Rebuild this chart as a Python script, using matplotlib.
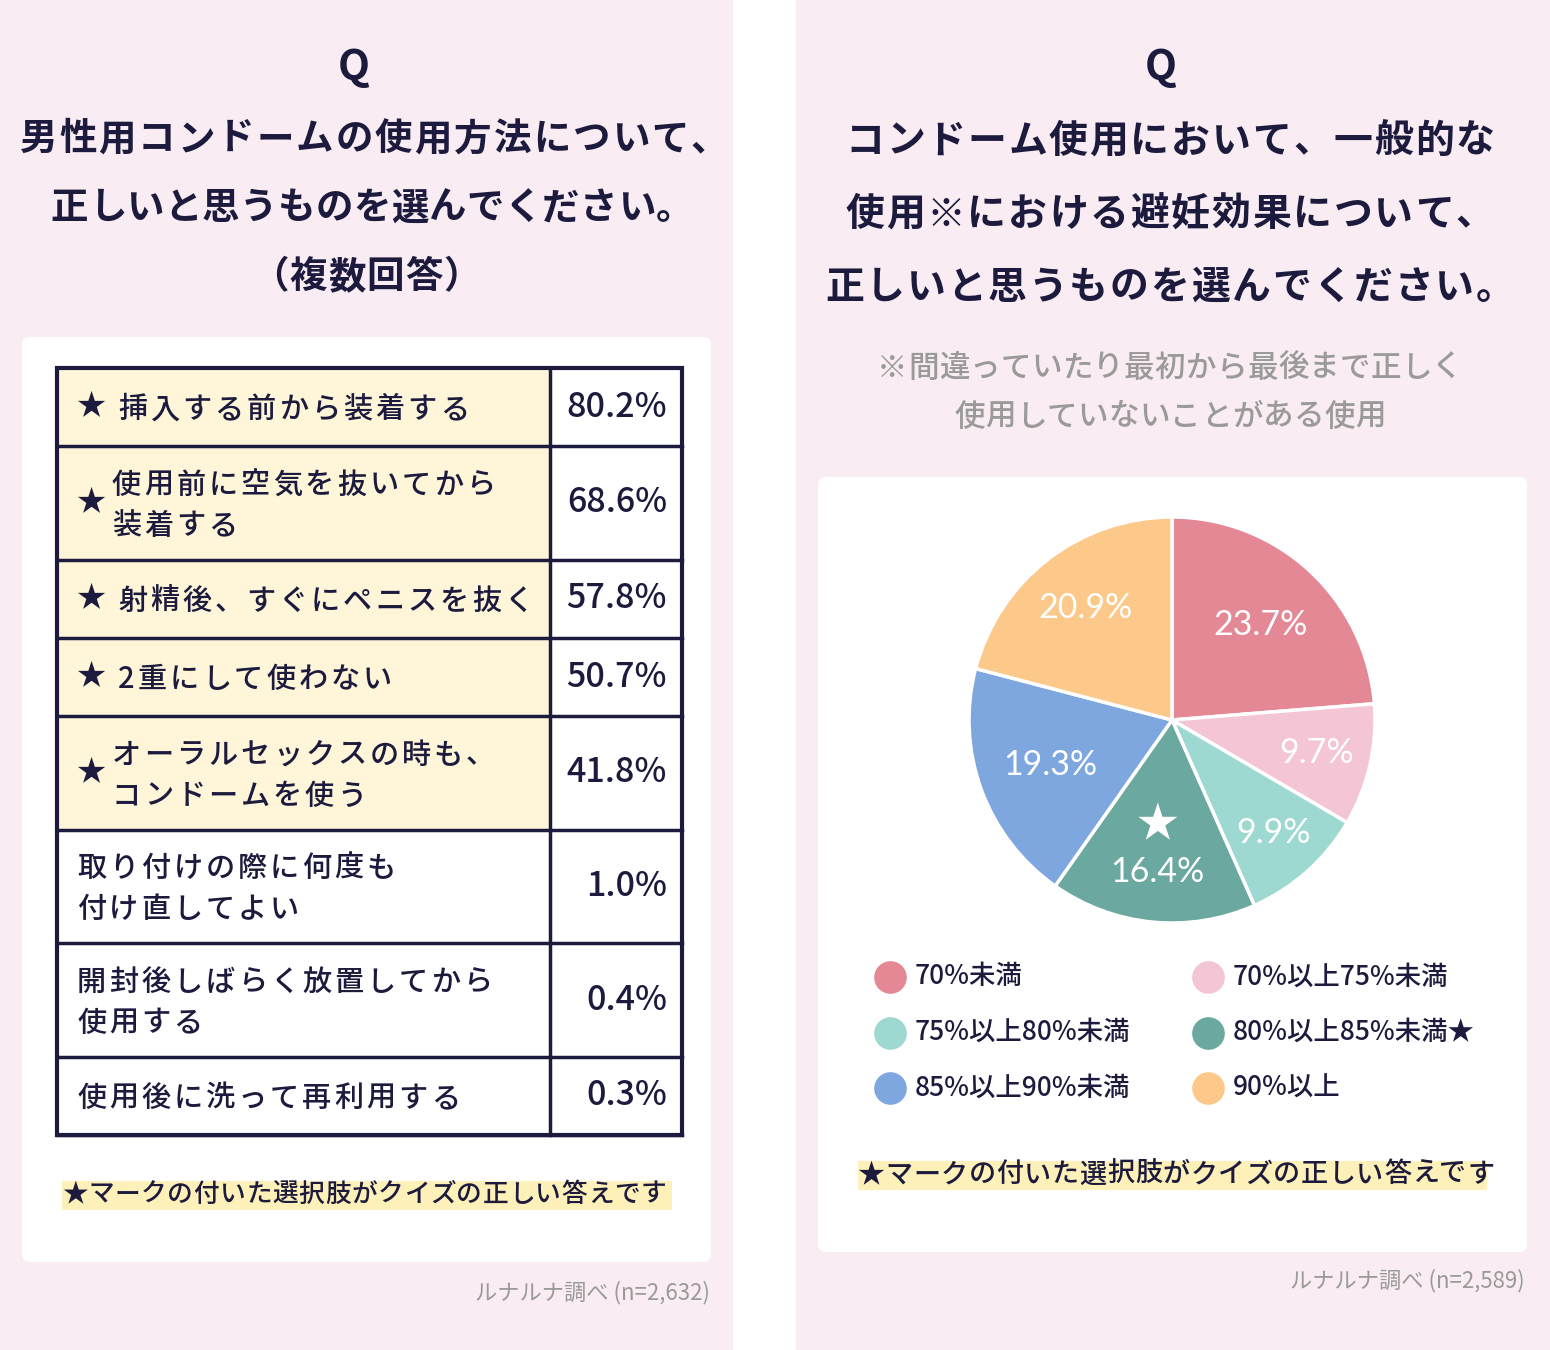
import matplotlib
matplotlib.use("Agg")
import matplotlib.pyplot as plt
from matplotlib.patches import Rectangle, FancyBboxPatch
from matplotlib.font_manager import findfont, FontProperties
from matplotlib.ft2font import FT2Font
import numpy as np

plt.rcParams['font.family'] = ['Noto Sans CJK JP', 'DejaVu Sans']

# ---- data ----
left_title = ["男性用コンドームの使用方法について、", "正しいと思うものを選んでください。", "（複数回答）"]
options = [
    "挿入する前から装着する",
    "使用前に空気を抜いてから\n装着する",
    "射精後、すぐにペニスを抜く",
    "2重にして使わない",
    "オーラルセックスの時も、\nコンドームを使う",
    "取り付けの際に何度も\n付け直してよい",
    "開封後しばらく放置してから\n使用する",
    "使用後に洗って再利用する",
]
option_pct = [80.2, 68.6, 57.8, 50.7, 41.8, 1.0, 0.4, 0.3]
option_correct = [True, True, True, True, True, False, False, False]
left_source = "ルナルナ調べ (n=2,632)"

right_title = ["コンドーム使用において、一般的な", "使用※における避妊効果について、", "正しいと思うものを選んでください。"]
right_note = ["※間違っていたり最初から最後まで正しく", "使用していないことがある使用"]
pie_labels = ["70%未満", "70%以上75%未満", "75%以上80%未満", "80%以上85%未満", "85%以上90%未満", "90%以上"]
pie_values = [23.7, 9.7, 9.9, 16.4, 19.3, 20.9]
pie_correct = [False, False, False, True, False, False]
right_source = "ルナルナ調べ (n=2,589)"
footnote = "★マークの付いた選択肢がクイズの正しい答えです"

# ---- style ----
NAVY = "#1c1b3d"
PINK_BG = "#f9edf3"
CREAM = "#fff6da"
HILITE = "#fdf0b8"
GRAY = "#9a9a9a"
pie_colors = ["#e48896", "#f3c5d5", "#9dd9d0", "#6aa8a0", "#7fa7df", "#fdc98a"]
label_dist = [0.64, 0.73, 0.75, 0.75, 0.64, 0.70]

W, H = 1550, 1350
DPI = 100
fig = plt.figure(figsize=(W / DPI, H / DPI), dpi=DPI)
bg = fig.add_axes([0, 0, 1, 1])
bg.set_xlim(0, W)
bg.set_ylim(H, 0)
bg.axis('off')

_fonts = {}


def advances(s, fs, weight):
    if weight not in _fonts:
        _fonts[weight] = FT2Font(findfont(FontProperties(family='Noto Sans CJK JP', weight=weight)))
    f = _fonts[weight]
    f.set_size(fs, DPI)
    return [f.load_char(ord(c)).linearHoriAdvance / 65536 for c in s]


def spaced(x, y, s, fs, track, ha="left", weight="medium", color=NAVY, lh=None):
    # text with extra letter spacing, y is the vertical centre of the block
    em = fs * DPI / 72
    lines = s.split("\n")
    lh = lh or em * 1.4
    n = len(lines)
    for k, line in enumerate(lines):
        adv = advances(line, fs, weight)
        total = sum(adv) + track * (len(line) - 1)
        sx = x - total / 2 if ha == "center" else x
        base = y + (k - (n - 1) / 2) * lh + 0.38 * em
        for c, a in zip(line, adv):
            if c != " ":
                bg.text(sx, base, c, ha="left", va="baseline", fontsize=fs,
                        fontweight=weight, color=color, zorder=5)
            sx += a + track


# panels
bg.add_patch(Rectangle((0, 0), 732, H, color=PINK_BG, zorder=0))
bg.add_patch(Rectangle((796, 0), W - 796, H, color=PINK_BG, zorder=0))
bg.add_patch(FancyBboxPatch((22, 337), 689, 925, boxstyle="round,pad=0,rounding_size=8",
                            fc="white", ec="none", zorder=1))
bg.add_patch(FancyBboxPatch((818, 477), 709, 775, boxstyle="round,pad=0,rounding_size=8",
                            fc="white", ec="none", zorder=1))

# ---- left panel titles ----
bg.text(354, 68, "Q", ha="center", va="center", fontsize=30, fontweight="bold", color=NAVY)
left_track = [2.0, 0.3, 1.0]
left_cx = [374, 372, 366]
for i, line in enumerate(left_title):
    spaced(left_cx[i], 136 + i * 69, line, 27, left_track[i], ha="center", weight="bold")

# ---- table ----
x0, x1, x2 = 57, 550, 682
y = 368
for text, pct, ok in zip(options, option_pct, option_correct):
    nlines = text.count("\n") + 1
    h = 78.25 if nlines == 1 else 113.5
    cy = y + h / 2
    if ok:
        bg.add_patch(Rectangle((x0, y), x1 - x0, h, fc=CREAM, ec="none", zorder=2))
    bg.plot([x0, x2], [y + h, y + h], color=NAVY, lw=2.5, zorder=4)
    if ok and nlines == 1:
        bg.text(77, cy, "★", ha="left", va="center", fontsize=21, color=NAVY, zorder=5)
        spaced(118, cy, text, 21, 3.0)
    elif ok:
        bg.text(77, cy, "★", ha="left", va="center", fontsize=21, color=NAVY, zorder=5)
        spaced(112, cy, text, 21, 3.0, lh=41)
    else:
        spaced(77, cy, text, 21, 3.0, lh=41)
    bg.text(667, cy, f"{pct:.1f}%", ha="right", va="center", fontsize=24.5,
            fontweight="medium", color=NAVY, zorder=5)
    y += h
bg.add_patch(Rectangle((x0, 368), x2 - x0, y - 368, fc="none", ec=NAVY, lw=3, zorder=4))
bg.plot([x1, x1], [368, y], color=NAVY, lw=2.5, zorder=4)

# left footnote
bg.add_patch(Rectangle((62, 1181), 610, 29, fc=HILITE, ec="none", zorder=2))
spaced(62, 1192, footnote, 18.5, 0.6)
bg.text(710, 1293, left_source, ha="right", va="center", fontsize=16, color=GRAY)

# ---- right panel titles ----
bg.text(1161, 68, "Q", ha="center", va="center", fontsize=30, fontweight="bold", color=NAVY)
for i, line in enumerate(right_title):
    spaced(1170, 138 + i * 73, line, 28, 1.8, ha="center", weight="bold")
for i, line in enumerate(right_note):
    spaced(1170, 365 + i * 49, line, 22, 0.3, ha="center", color=GRAY)

# ---- pie ----
cx, cy, r = 1172, 720, 203
pax = fig.add_axes([(cx - r) / W, (H - cy - r) / H, 2 * r / W, 2 * r / H])
wedges, _ = pax.pie(pie_values, colors=pie_colors, startangle=90, counterclock=False,
                    radius=1.0, wedgeprops=dict(edgecolor="white", linewidth=2.5))
pax.set_xlim(-1.0, 1.0)
pax.set_ylim(-1.0, 1.0)
pax.axis('off')
for w, v, d, ok in zip(wedges, pie_values, label_dist, pie_correct):
    ang = np.deg2rad((w.theta1 + w.theta2) / 2)
    lx, ly = d * np.cos(ang), d * np.sin(ang)
    pax.text(lx, ly, f"{v:.1f}%", ha="center", va="center", fontsize=24.5,
             family=["Lato", "DejaVu Sans"], color="white")
    if ok:
        sd = 0.52
        pax.text(sd * np.cos(ang) - 0.02, sd * np.sin(ang), "★", ha="center", va="center",
                 fontsize=30, color="white")

# legend
for i, (lab, col, ok) in enumerate(zip(pie_labels, pie_colors, pie_correct)):
    lx = 890 + (i % 2) * 318
    ly = 977 + (i // 2) * 55.5
    bg.scatter([lx], [ly], s=23.5 ** 2, color=col, zorder=5, linewidths=0)
    bg.text(lx + 25, ly, lab + ("★" if ok else ""), ha="left", va="center", fontsize=19,
            fontweight="medium", color=NAVY, zorder=5)

bg.add_patch(Rectangle((858, 1161), 629, 29, fc=HILITE, ec="none", zorder=2))
spaced(858, 1172, footnote, 19.5, 0.6)
bg.text(1525, 1281, right_source, ha="right", va="center", fontsize=16, color=GRAY)

fig.savefig("out.png", dpi=DPI)
